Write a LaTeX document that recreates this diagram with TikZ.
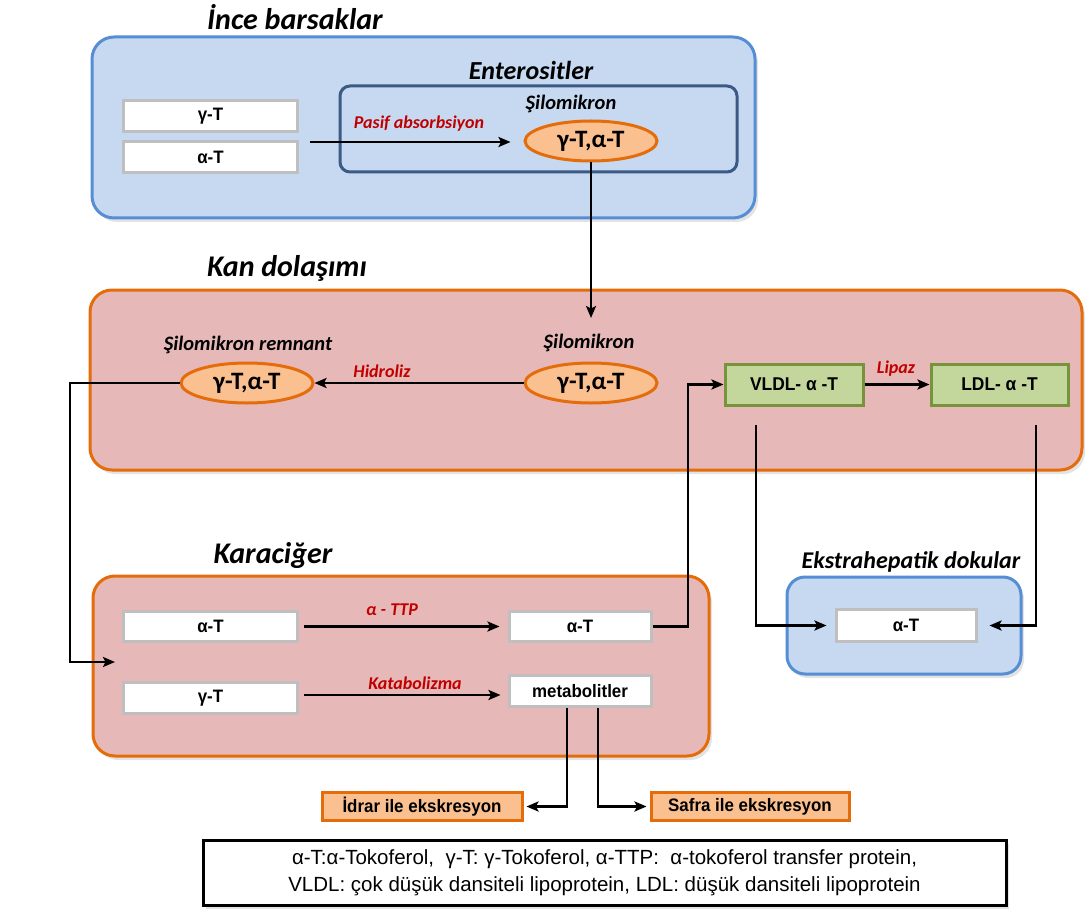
\documentclass[tikz,border=0pt]{standalone}
\usepackage{fontspec}
\setmainfont{Liberation Sans}
\newfontfamily\calib{Carlito}
\newfontfamily\boxf[FakeStretch=0.94]{Liberation Sans}
\usetikzlibrary{arrows.meta,shadows,shapes.geometric,calc}
\definecolor{lblue}{HTML}{C6D9F0}
\definecolor{bblue}{HTML}{558ED5}
\definecolor{dblue}{HTML}{3B5A86}
\definecolor{pinkf}{HTML}{E6B9B8}
\definecolor{orng}{HTML}{E46C0A}
\definecolor{peach}{HTML}{FAC090}
\definecolor{gfill}{HTML}{C3D69B}
\definecolor{gdraw}{HTML}{77933C}
\definecolor{gbord}{HTML}{BFBFBF}
\definecolor{dred}{HTML}{C00000}
\tikzset{
  x=1pt,y=-1pt,
  big/.style={rectangle,rounded corners=22pt,line width=3pt,inner sep=0pt,
     drop shadow={opacity=0.22,shadow xshift=3pt,shadow yshift=-4pt}},
  bluebig/.style={big,fill=lblue,draw=bblue},
  pinkbig/.style={big,fill=pinkf,draw=orng},
  boxfont/.style={font=\boxf\bfseries\fontsize{18}{20}\selectfont},
  wbox/.style={rectangle,draw=gbord,fill=white,line width=3pt,inner sep=0pt,boxfont},
  gbox/.style={rectangle,draw=gdraw,fill=gfill,line width=3pt,inner sep=0pt,
     font=\boxf\bfseries\fontsize{18.5}{20}\selectfont},
  obox/.style={rectangle,draw=orng,fill=peach,line width=3pt,inner sep=0pt,boxfont},
  ell/.style={ellipse,draw=orng,fill=peach,line width=3pt,inner sep=0pt,
     minimum width=132,minimum height=40,font=\calib\bfseries\fontsize{25}{28}\selectfont},
  head/.style={font=\calib\bfseries\itshape\fontsize{30}{36}\selectfont},
  subhead/.style={font=\calib\bfseries\itshape\fontsize{26}{30}\selectfont},
  captlab/.style={font=\calib\bfseries\itshape\fontsize{20.5}{24}\selectfont},
  redlab/.style={text=dred,font=\calib\bfseries\itshape\fontsize{18}{22}\selectfont},
  arr/.style={-{Stealth[length=12pt,width=10pt,inset=2.5pt]},line width=2.6pt},
}
\begin{document}
\begin{tikzpicture}
\useasboundingbox (0,0) rectangle (1086,909);
% big containers
\node[bluebig,minimum width=663,minimum height=181] (ince) at (423.5,127.5) {};
\node[rectangle,rounded corners=10pt,draw=dblue,fill=lblue,line width=3pt,minimum width=397,minimum height=86] (ent) at (538.5,129) {};
\node[pinkbig,minimum width=992,minimum height=180] (kan) at (586,380) {};
\node[pinkbig,minimum width=616,minimum height=180] (kar) at (401,666) {};
\node[bluebig,rounded corners=18pt,minimum width=234,minimum height=97] (eks) at (904,625.5) {};
\node[rectangle,draw=black,fill=white,line width=3pt,minimum width=803,minimum height=65,
  drop shadow={opacity=0.22,shadow xshift=3pt,shadow yshift=-4pt}] (leg) at (604.5,872.5) {};
% headings
\node[head] (h1) at (295,17) {İnce barsaklar};
\node[subhead] (h2) at (531,70) {Enterositler};
\node[captlab] (c1) at (571,104) {Şilomikron};
\node[head] (h3) at (287,268) {Kan dolaşımı};
\node[captlab] (c2) at (589,343) {Şilomikron};
\node[captlab] (c3) at (248,345) {Şilomikron remnant};
\node[head] (h4) at (273,555) {Karaciğer};
\node[subhead,font=\calib\bfseries\itshape\fontsize{24}{28}\selectfont] (h5) at (911,562) {Ekstrahepatik dokular};
% small boxes
\node[wbox,minimum width=174,minimum height=31] (g1) at (210.5,116) {γ-T};
\node[wbox,minimum width=174,minimum height=31] (a1) at (210.5,157) {α-T};
\node[ell] (el1) at (591,141) {γ-T,α-T};
\node[ell] (el2) at (591,383) {γ-T,α-T};
\node[ell] (el3) at (247,383) {γ-T,α-T};
\node[gbox,minimum width=138,minimum height=41] (vldl) at (794,384.5) {VLDL- α -T};
\node[gbox,minimum width=137,minimum height=41] (ldl) at (999.5,384.5) {LDL- α -T};
\node[wbox,minimum width=174,minimum height=30] (ka1) at (210.5,626.5) {α-T};
\node[wbox,minimum width=142,minimum height=30] (ka2) at (580,626.5) {α-T};
\node[wbox,minimum width=174,minimum height=31] (kg) at (210.5,698) {γ-T};
\node[wbox,minimum width=142,minimum height=31] (met) at (580,691) {metabolitler};
\node[wbox,minimum width=140,minimum height=32] (eka) at (906,625.5) {α-T};
\node[obox,minimum width=200,minimum height=28] (idr) at (422,806.5) {İdrar ile ekskresyon};
\node[obox,minimum width=198,minimum height=28] (saf) at (750,806.5) {Safra ile ekskresyon};
% legend text
\node[align=center,font=\fontsize{20.5}{27}\selectfont] (legt) at (604.5,873)
  {α-T:α-Tokoferol,\ \ γ-T: γ-Tokoferol, α-TTP:\ \ α-tokoferol transfer protein,\\
   VLDL: çok düşük dansiteli lipoprotein, LDL: düşük dansiteli lipoprotein};
% coordinates
\coordinate (s1) at (310,142);
\coordinate (e2) at (591,318);
\coordinate (lin) at (115,662);
\coordinate (v0) at (756,425);
\coordinate (l0) at (1036,425);
% connectors
\draw[arr,shorten >=13pt] (s1) -- (el1.west |- s1);
\node[redlab] (r1) at (419,124) {Pasif absorbsiyon};
\draw[arr] (el1.south) -- (e2);
\draw[arr] (el2.west) -- (el3.east);
\node[redlab] (r2) at (382,371) {Hidroliz};
\draw[arr] (el3.west) -- (70,383) -- (70,662) -- (lin);
\draw[arr] (vldl.east) -- (ldl.west);
\node[redlab] (r3) at (896,369) {Lipaz};
\draw[arr,shorten >=8pt] ($(ka1.east)+(5,0)$) -- (ka2.west);
\node[redlab] (r4) at (392,610) {α - TTP};
\draw[arr,shorten >=7pt] ($(kg.east)+(5,-3)$) -- ($(met.west)+(0,4)$);
\node[redlab] (r5) at (415,683) {Katabolizma};
\draw[arr] (ka2.east) -- (688,626.5) -- (688,384.5) -- (vldl.west);
\draw[arr,shorten >=8pt] (v0) -- (756,625.5) -- (eka.west);
\draw[arr,shorten >=12pt] (l0) -- (1036,625.5) -- (eka.east);
\draw[arr,shorten >=3pt] ($(met.south)+(-13,0)$) -- (567,806.5) -- (idr.east);
\draw[arr,shorten >=3pt] ($(met.south)+(18,0)$) -- (598,806.5) -- (saf.west);
\end{tikzpicture}
\end{document}
